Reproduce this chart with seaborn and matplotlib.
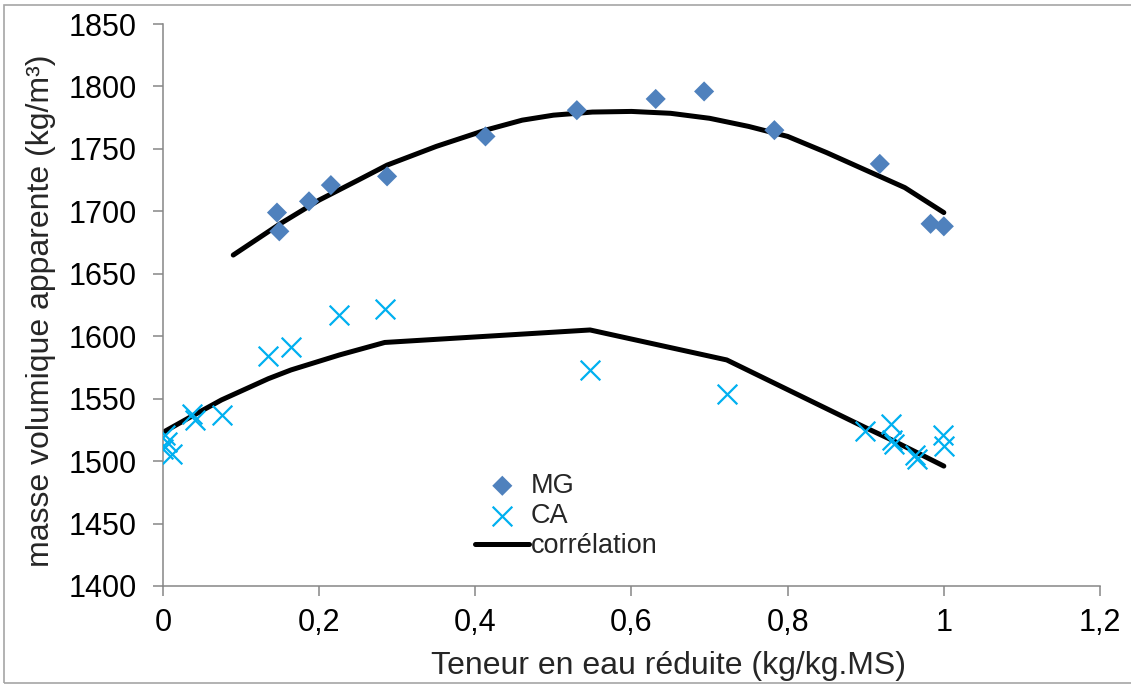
import numpy as np
import pandas as pd
import matplotlib
matplotlib.use("Agg")
import matplotlib.pyplot as plt
import seaborn as sns
from matplotlib.patches import Rectangle

# données
mg_x = [0.146, 0.149, 0.187, 0.215, 0.287, 0.413, 0.530, 0.631, 0.693, 0.783, 0.918, 0.983, 1.000]
mg_y = [1699, 1684, 1708, 1721, 1728, 1760, 1781, 1790, 1796, 1765, 1738, 1690, 1688]

ca_x = [0.003, 0.005, 0.000, 0.012, 0.037, 0.041, 0.075, 0.135, 0.164, 0.226, 0.284,
        0.547, 0.722, 0.899, 0.932, 0.933, 0.936, 0.963, 0.966, 0.999, 1.000]
ca_y = [1521, 1515, 1510, 1506, 1538, 1533, 1537, 1584, 1591, 1617, 1622,
        1573, 1554, 1524, 1530, 1517, 1514, 1505, 1502, 1521, 1512]

# courbes de corrélation
corr_mg_x = [0.09, 0.15, 0.20, 0.25, 0.287, 0.35, 0.413, 0.46, 0.50, 0.55, 0.60, 0.65, 0.70,
             0.75, 0.80, 0.85, 0.90, 0.95, 1.00]
corr_mg_y = [1665, 1690, 1709, 1725, 1737, 1752, 1765, 1773, 1777, 1779.5, 1780, 1778.5, 1774.5,
             1768, 1760, 1747, 1733, 1719, 1699]

corr_ca_x = [0.0, 0.04, 0.075, 0.135, 0.164, 0.226, 0.284, 0.547, 0.722, 0.899, 0.933, 0.965, 1.0]
corr_ca_y = [1523, 1537, 1549, 1566, 1573, 1585, 1595, 1605, 1581, 1527, 1517, 1507, 1496]

x_ticks = [0, 0.2, 0.4, 0.6, 0.8, 1.0, 1.2]
x_tick_labels = ["0", "0,2", "0,4", "0,6", "0,8", "1", "1,2"]
y_ticks = [1400, 1450, 1500, 1550, 1600, 1650, 1700, 1750, 1800, 1850]

df_mg = pd.DataFrame({"x": mg_x, "y": mg_y})
df_ca = pd.DataFrame({"x": ca_x, "y": ca_y})
df_cmg = pd.DataFrame({"x": corr_mg_x, "y": corr_mg_y})
df_cca = pd.DataFrame({"x": corr_ca_x, "y": corr_ca_y})

sns.set_style("white")
plt.rcParams["font.family"] = ["Liberation Sans", "DejaVu Sans"]

fig = plt.figure(figsize=(11.31, 6.84), dpi=100)
ax = fig.add_axes([0.1441, 0.1433, 0.8285, 0.8216])

grey = "#868686"

sns.lineplot(data=df_cmg, x="x", y="y", sort=False, color="black", lw=3.6,
             label="corrélation", ax=ax, zorder=2)
sns.lineplot(data=df_cca, x="x", y="y", sort=False, color="black", lw=3.6,
             label="_nolegend_", ax=ax, zorder=2)
sns.scatterplot(data=df_mg, x="x", y="y", marker="D", s=105, color="#4F81BD",
                edgecolor="none", label="MG", ax=ax, zorder=3)
sns.scatterplot(data=df_ca, x="x", y="y", marker="x", s=200, color="#00B0F0",
                linewidth=1.6, label="CA", ax=ax, zorder=3)

ax.set_xlim(0, 1.2)
ax.set_ylim(1400, 1850)
ax.set_xticks(x_ticks, x_tick_labels)
ax.set_yticks(y_ticks)
ax.tick_params(axis="both", labelsize=22, colors=grey, labelcolor="black",
               direction="out", length=7, width=1.1, left=True, bottom=True)
ax.tick_params(axis="y", pad=12)
ax.tick_params(axis="x", pad=9)

for side in ["top", "right"]:
    ax.spines[side].set_visible(False)
for side in ["left", "bottom"]:
    ax.spines[side].set_color(grey)
    ax.spines[side].set_linewidth(1.1)

ax.set_xlabel("Teneur en eau réduite (kg/kg.MS)", fontsize=23, labelpad=9)
ax.set_ylabel("masse volumique apparente (kg/m³)", fontsize=23, labelpad=9)
ax.xaxis.label.set_x(0.54)
ax.yaxis.label.set_y(0.489)

h, l = ax.get_legend_handles_labels()
order = [l.index("MG"), l.index("CA"), l.index("corrélation")]
ax.legend([h[i] for i in order], [l[i] for i in order], loc="upper left",
          bbox_to_anchor=(0.313, 0.235), frameon=False, fontsize=19.5,
          handlelength=2.0, handletextpad=0.05, labelspacing=0.15,
          borderpad=0.2, markerscale=1.0)

fig.patches.append(Rectangle((4 / 1131, 1 / 684), 1.2, 1 - 6 / 684,
                             transform=fig.transFigure, fill=False,
                             edgecolor="#a6a6a6", lw=1.2))

fig.savefig("out.png", dpi=100)
